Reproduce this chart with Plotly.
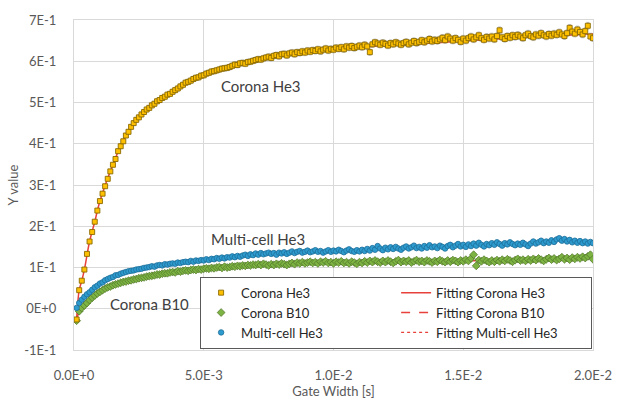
import plotly.graph_objects as go

# Gate widths [s]: 1e-4 s steps
gate_width = [round(k * 1e-4, 6) for k in range(1, 201)]

corona_he3 = [
    -0.026, 0.045, 0.068, 0.095, 0.133, 0.163, 0.186, 0.211, 0.238, 0.261,
    0.279, 0.297, 0.315, 0.333, 0.349, 0.363, 0.382, 0.394, 0.406, 0.420,
    0.429, 0.441, 0.450, 0.458, 0.464, 0.471, 0.477, 0.483, 0.487, 0.493,
    0.497, 0.503, 0.506, 0.511, 0.514, 0.519, 0.521, 0.526, 0.530, 0.534,
    0.539, 0.543, 0.548, 0.550, 0.553, 0.557, 0.560, 0.561, 0.565, 0.566,
    0.570, 0.572, 0.575, 0.576, 0.578, 0.580, 0.582, 0.583, 0.584, 0.586,
    0.589, 0.592, 0.591, 0.595, 0.596, 0.594, 0.598, 0.599, 0.601, 0.603,
    0.605, 0.604, 0.607, 0.609, 0.611, 0.608, 0.613, 0.615, 0.612, 0.617,
    0.618, 0.614, 0.619, 0.621, 0.617, 0.622, 0.620, 0.624, 0.621, 0.626,
    0.623, 0.627, 0.625, 0.629, 0.624, 0.628, 0.631, 0.626, 0.630, 0.628,
    0.633, 0.630, 0.634, 0.629, 0.636, 0.633, 0.637, 0.632, 0.635, 0.638,
    0.634, 0.640, 0.636, 0.622, 0.641, 0.646, 0.643, 0.640, 0.645, 0.642,
    0.638, 0.644, 0.641, 0.646, 0.643, 0.640, 0.644, 0.647, 0.641, 0.645,
    0.649, 0.644, 0.647, 0.651, 0.646, 0.650, 0.654, 0.648, 0.652, 0.649,
    0.653, 0.657, 0.651, 0.660, 0.655, 0.650, 0.656, 0.652, 0.647, 0.655,
    0.650, 0.656, 0.660, 0.653, 0.658, 0.663, 0.656, 0.652, 0.659, 0.655,
    0.660, 0.653, 0.661, 0.675, 0.658, 0.654, 0.661, 0.657, 0.663, 0.659,
    0.664, 0.660, 0.656, 0.663, 0.667, 0.661, 0.658, 0.665, 0.662, 0.668,
    0.663, 0.660, 0.666, 0.662, 0.667, 0.664, 0.670, 0.665, 0.661, 0.668,
    0.681, 0.672, 0.667, 0.677, 0.671, 0.665, 0.673, 0.686, 0.660, 0.656,
]

corona_b10 = [
    -0.029, -0.006, 0.002, 0.008, 0.014, 0.021, 0.027, 0.032, 0.037, 0.041,
    0.045, 0.049, 0.052, 0.054, 0.057, 0.059, 0.061, 0.063, 0.065, 0.066,
    0.068, 0.069, 0.071, 0.072, 0.074, 0.075, 0.076, 0.078, 0.079, 0.080,
    0.081, 0.083, 0.083, 0.085, 0.086, 0.086, 0.088, 0.089, 0.088, 0.091,
    0.090, 0.092, 0.093, 0.092, 0.094, 0.095, 0.094, 0.096, 0.095, 0.097,
    0.098, 0.097, 0.099, 0.098, 0.100, 0.101, 0.099, 0.102, 0.100, 0.101,
    0.103, 0.102, 0.104, 0.103, 0.105, 0.104, 0.106, 0.105, 0.107, 0.106,
    0.108, 0.106, 0.109, 0.107, 0.105, 0.108, 0.106, 0.109, 0.107, 0.110,
    0.108, 0.106, 0.109, 0.111, 0.108, 0.112, 0.110, 0.113, 0.110, 0.112,
    0.114, 0.111, 0.113, 0.110, 0.114, 0.112, 0.115, 0.111, 0.113, 0.110,
    0.114, 0.112, 0.115, 0.111, 0.113, 0.110, 0.114, 0.112, 0.109, 0.113,
    0.111, 0.115, 0.112, 0.116, 0.113, 0.117, 0.114, 0.112, 0.116, 0.113,
    0.117, 0.114, 0.111, 0.115, 0.118, 0.113, 0.116, 0.114, 0.117, 0.112,
    0.115, 0.118, 0.114, 0.116, 0.113, 0.117, 0.115, 0.112, 0.116, 0.114,
    0.118, 0.115, 0.113, 0.117, 0.114, 0.118, 0.116, 0.113, 0.117, 0.115,
    0.119, 0.116, 0.122, 0.131, 0.104, 0.118, 0.115, 0.119, 0.116, 0.113,
    0.117, 0.114, 0.118, 0.115, 0.119, 0.116, 0.120, 0.117, 0.114, 0.118,
    0.121, 0.117, 0.119, 0.116, 0.120, 0.117, 0.121, 0.118, 0.122, 0.119,
    0.116, 0.120, 0.123, 0.119, 0.122, 0.118, 0.121, 0.125, 0.120, 0.123,
    0.119, 0.124, 0.121, 0.125, 0.122, 0.126, 0.123, 0.127, 0.131, 0.120,
]

multicell_he3 = [
    0.002, 0.014, 0.022, 0.029, 0.035, 0.040, 0.046, 0.052, 0.056, 0.061,
    0.064, 0.069, 0.072, 0.075, 0.077, 0.081, 0.082, 0.085, 0.087, 0.089,
    0.091, 0.092, 0.093, 0.095, 0.096, 0.097, 0.099, 0.100, 0.101, 0.103,
    0.102, 0.105, 0.106, 0.105, 0.108, 0.107, 0.109, 0.110, 0.109, 0.112,
    0.111, 0.113, 0.114, 0.113, 0.116, 0.114, 0.117, 0.116, 0.118, 0.117,
    0.120, 0.118, 0.121, 0.120, 0.123, 0.121, 0.124, 0.122, 0.125, 0.124,
    0.127, 0.125, 0.128, 0.126, 0.129, 0.131, 0.128, 0.132, 0.130, 0.134,
    0.131, 0.135, 0.132, 0.134, 0.136, 0.133, 0.135, 0.131, 0.136, 0.134,
    0.137, 0.133, 0.136, 0.139, 0.135, 0.138, 0.140, 0.136, 0.138, 0.141,
    0.137, 0.139, 0.142, 0.138, 0.140, 0.136, 0.139, 0.142, 0.138, 0.141,
    0.139, 0.143, 0.140, 0.137, 0.141, 0.144, 0.140, 0.138, 0.142, 0.139,
    0.143, 0.140, 0.145, 0.141, 0.147, 0.143, 0.152, 0.146, 0.142, 0.148,
    0.144, 0.149, 0.145, 0.150, 0.146, 0.143, 0.148, 0.151, 0.146, 0.149,
    0.153, 0.147, 0.150, 0.146, 0.152, 0.148, 0.154, 0.149, 0.151, 0.147,
    0.153, 0.150, 0.146, 0.152, 0.155, 0.149, 0.153, 0.157, 0.151, 0.155,
    0.150, 0.156, 0.152, 0.158, 0.153, 0.160, 0.155, 0.151, 0.157, 0.154,
    0.159, 0.155, 0.161, 0.157, 0.153, 0.159, 0.156, 0.161, 0.157, 0.154,
    0.158, 0.155, 0.160, 0.156, 0.152, 0.158, 0.163, 0.158, 0.161, 0.165,
    0.159, 0.163, 0.160, 0.166, 0.162, 0.168, 0.171, 0.165, 0.169, 0.163,
    0.167, 0.161, 0.165, 0.160, 0.164, 0.159, 0.163, 0.158, 0.162, 0.159,
]

# Fitted curves, sampled at a coarser set of gate widths
fit_x = [1e-4, 2e-4, 3e-4, 4e-4, 6e-4, 8e-4, 1e-3, 1.5e-3, 2e-3, 3e-3,
         4e-3, 5e-3, 6e-3, 8e-3, 1e-2, 1.2e-2, 1.4e-2, 1.6e-2, 1.8e-2, 2e-2]
fit_corona_he3 = [-0.026, 0.045, 0.068, 0.095, 0.163, 0.211, 0.261, 0.349, 0.420, 0.493,
                  0.534, 0.566, 0.586, 0.617, 0.628, 0.638, 0.645, 0.653, 0.660, 0.666]
fit_corona_b10 = [-0.029, -0.006, 0.002, 0.008, 0.021, 0.032, 0.041, 0.057, 0.066, 0.080,
                  0.090, 0.097, 0.101, 0.108, 0.112, 0.114, 0.116, 0.117, 0.119, 0.122]
fit_multicell_he3 = [0.002, 0.014, 0.022, 0.029, 0.040, 0.052, 0.061, 0.077, 0.089, 0.102,
                     0.111, 0.117, 0.124, 0.134, 0.140, 0.144, 0.150, 0.156, 0.160, 0.163]

x_tickvals = [0, 0.005, 0.01, 0.015, 0.02]
x_ticktext = ["0.0E+0", "5.0E-3", "1.0E-2", "1.5E-2", "2.0E-2"]
y_tickvals = [-0.1, 0, 0.1, 0.2, 0.3, 0.4, 0.5, 0.6, 0.7]
y_ticktext = ["-1E-1", "0E+0", "1E-1", "2E-1", "3E-1", "4E-1", "5E-1", "6E-1", "7E-1"]

FONT = "Lato, 'Open Sans', sans-serif"
GRID = "#d9d9d9"
FIT_RED = "#e8413c"
TICK_COLOR = "#595959"

fig = go.Figure()

# fitted lines underneath the measured points
fig.add_trace(go.Scatter(x=fit_x, y=fit_corona_he3, mode="lines", name="Fitting Corona He3",
                         line=dict(color=FIT_RED, width=1.5, shape="spline"), legendrank=2))
fig.add_trace(go.Scatter(x=fit_x, y=fit_corona_b10, mode="lines", name="Fitting Corona B10",
                         line=dict(color=FIT_RED, width=1.5, dash="dash", shape="spline"), legendrank=4))
fig.add_trace(go.Scatter(x=fit_x, y=fit_multicell_he3, mode="lines", name="Fitting Multi-cell He3",
                         line=dict(color=FIT_RED, width=1.2, dash="dot", shape="spline"), legendrank=6))

fig.add_trace(go.Scatter(
    x=gate_width, y=corona_b10, mode="markers", name="Corona B10", legendrank=3,
    marker=dict(symbol="diamond", size=6, color="#7cb342", line=dict(color="#557a2c", width=0.8)),
    error_y=dict(type="percent", value=3, color="#a6a6a6", thickness=0.6, width=1.5),
))
fig.add_trace(go.Scatter(
    x=gate_width, y=multicell_he3, mode="markers", name="Multi-cell He3", legendrank=5,
    marker=dict(symbol="circle", size=5.5, color="#2e9bcf", line=dict(color="#1d6f99", width=0.8)),
    error_y=dict(type="percent", value=3, color="#a6a6a6", thickness=0.6, width=1.5),
))
fig.add_trace(go.Scatter(
    x=gate_width, y=corona_he3, mode="markers", name="Corona He3", legendrank=1,
    marker=dict(symbol="square", size=5, color="#ffc000", line=dict(color="#8a6a00", width=0.9)),
    error_y=dict(type="percent", value=1.2, color="#9a9a9a", thickness=0.6, width=1.5),
))

fig.update_layout(
    width=625, height=404,
    margin=dict(l=74, r=32, t=17, b=46),
    paper_bgcolor="white", plot_bgcolor="white",
    font=dict(family=FONT, size=13, color=TICK_COLOR),
    showlegend=True,
    legend=dict(
        orientation="h", x=0.243, y=0.004, xanchor="left", yanchor="bottom",
        entrywidth=150, entrywidthmode="pixels",
        bgcolor="white", bordercolor="#595959", borderwidth=1,
        font=dict(family=FONT, size=13, color="#262626"),
        traceorder="normal", tracegroupgap=0, itemwidth=30,
    ),
    xaxis=dict(
        range=[0, 0.02], tickvals=x_tickvals, ticktext=x_ticktext,
        showgrid=True, gridcolor=GRID, gridwidth=1, zeroline=False,
        showline=True, linecolor=GRID, mirror=True, ticks="",
        ticklabelstandoff=13,
        tickfont=dict(size=13, color=TICK_COLOR),
        title=dict(text="Gate Width [s]", font=dict(size=13, color=TICK_COLOR), standoff=0),
    ),
    yaxis=dict(
        range=[-0.1, 0.7], tickvals=y_tickvals, ticktext=y_ticktext,
        showgrid=True, gridcolor=GRID, gridwidth=1, zeroline=False,
        showline=True, linecolor=GRID, mirror=True, ticks="",
        ticklabelstandoff=14,
        tickfont=dict(size=13, color=TICK_COLOR),
        title=dict(text="Y value", font=dict(size=13, color=TICK_COLOR), standoff=2),
    ),
)

label_font = dict(family=FONT, size=15, color="#404040")
fig.add_annotation(x=0.0056, y=0.539, text="Corona He3", showarrow=False, xanchor="left", font=label_font)
fig.add_annotation(x=0.0052, y=0.169, text="Multi-cell He3", showarrow=False, xanchor="left", font=label_font)
fig.add_annotation(x=0.0013, y=0.012, text="Corona B10", showarrow=False, xanchor="left", font=label_font)

fig.write_html("out.html")
